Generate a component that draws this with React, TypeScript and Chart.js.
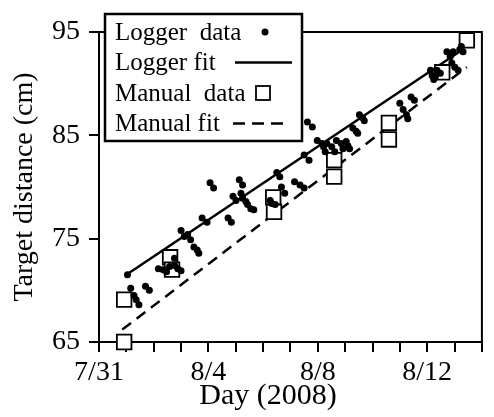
import { useEffect, useRef } from "react";
import { Chart, registerables } from "chart.js";

Chart.register(...registerables);

// ---- data ----
const dayLabels = ["7/31", "8/4", "8/8", "8/12"]; // every 4th day from 7/31
const yTickValues = [65, 75, 85, 95];

const loggerDays = [
  1.04, 1.16, 1.28, 1.36, 1.46, 1.7, 1.84,
  2.17, 2.35, 2.47, 2.58, 2.76, 2.76, 2.88, 3.0,
  3.0, 3.12, 3.24, 3.35, 3.47, 3.59, 3.65, 3.77, 3.95,
  4.06, 4.19, 4.72, 4.84, 4.9, 5.01, 5.13, 5.19, 5.25, 5.25, 5.37, 5.43, 5.55, 5.66,
  6.26, 6.32, 6.44, 6.5, 6.61, 6.67, 6.79,
  7.15, 7.35, 7.5, 7.5, 7.68, 7.62, 7.8,
  7.98, 8.15, 8.21, 8.27, 8.33, 8.51, 8.62, 8.68, 8.86, 8.92, 9.04, 9.1, 9.16,
  9.28, 9.4, 9.46, 9.52, 9.64, 9.7,
  11.0, 11.12, 11.24, 11.29, 11.41, 11.53,
  12.12, 12.18, 12.24, 12.3, 12.36, 12.48,
  12.72, 12.84, 12.9, 12.95, 13.01, 13.13, 13.19, 13.25, 13.31,
];
const loggerValues = [
  71.5, 70.2, 69.5, 69.1, 68.6, 70.4, 70.0,
  72.1, 72.0, 71.8, 72.3, 72.4, 73.1, 72.1, 71.9,
  75.8, 75.2, 75.4, 74.9, 74.2, 73.9, 73.6, 77.0, 76.6,
  80.4, 79.9, 77.0, 76.6, 79.1, 78.7, 80.7, 79.4, 80.2, 78.9, 78.6, 78.3, 77.9, 77.8,
  78.7, 78.4, 78.3, 81.4, 81.0, 80.0, 79.4,
  80.5, 80.2, 79.9, 83.1, 82.6, 86.3, 85.8,
  84.5, 84.2, 83.9, 83.4, 84.2, 83.9, 83.4, 84.5, 84.2, 83.7, 84.4, 84.0, 83.7,
  85.7, 85.4, 85.2, 87.0, 86.7, 86.4,
  88.1, 87.5, 87.0, 86.6, 88.7, 88.4,
  91.3, 90.8, 90.4, 90.7, 91.3, 91.0,
  93.1, 92.6, 92.0, 93.1, 91.6, 91.3, 93.3, 93.6, 93.1,
];

const manualDays = [0.92, 0.92, 2.6, 2.67, 6.37, 6.4, 8.6, 8.6, 10.6, 10.6, 12.55, 13.45];
const manualValues = [65.0, 69.1, 73.2, 72.0, 79.0, 77.6, 82.6, 81.0, 86.2, 84.6, 91.1, 94.2];

const loggerFitDays = [1.0, 13.3];
const loggerFitValues = [71.5, 93.3];
const manualFitDays = [0.85, 13.45];
const manualFitValues = [66.2, 91.6];

const legendLabels = ["Logger  data", "Logger fit", "Manual  data", "Manual fit"];
const xTitle = "Day (2008)";
const yTitle = "Target distance (cm)";

const FONT = "'Liberation Serif', 'Times New Roman', serif";

const toPoints = (xs: number[], ys: number[]) => xs.map((x, i) => ({ x, y: ys[i] }));

const framePlugin = {
  id: "frame",
  beforeDatasetsDraw(chart: any) {
    const { ctx, chartArea: a } = chart;
    ctx.save();
    ctx.strokeStyle = "#000";
    ctx.lineWidth = 2;
    ctx.strokeRect(a.left, a.top, a.right - a.left, a.bottom - a.top);
    ctx.restore();
  },
};

const legendPlugin = {
  id: "customLegend",
  afterDraw(chart: any) {
    const { ctx, chartArea: a } = chart;
    const x0 = a.left + 6;
    const y0 = a.top - 18;
    const w = 197;
    const h = 127;
    ctx.save();
    ctx.fillStyle = "#fff";
    ctx.fillRect(x0, y0, w, h);
    ctx.strokeStyle = "#000";
    ctx.lineWidth = 2.5;
    ctx.strokeRect(x0, y0, w, h);

    ctx.fillStyle = "#000";
    ctx.font = `25px ${FONT}`;
    ctx.textBaseline = "middle";
    ctx.textAlign = "left";
    const rowY = (i: number) => y0 + 18 + i * 30.5;
    legendLabels.forEach((t, i) => ctx.fillText(t, x0 + 10, rowY(i) + 1));

    // symbols
    ctx.beginPath();
    ctx.arc(x0 + 160, rowY(0), 3.5, 0, Math.PI * 2);
    ctx.fill();

    ctx.lineWidth = 2.5;
    ctx.beginPath();
    ctx.moveTo(x0 + 130, rowY(1));
    ctx.lineTo(x0 + 187, rowY(1));
    ctx.stroke();

    ctx.lineWidth = 1.8;
    ctx.strokeRect(x0 + 151, rowY(2) - 7, 14, 14);

    ctx.lineWidth = 2.5;
    ctx.setLineDash([12, 7]);
    ctx.beginPath();
    ctx.moveTo(x0 + 128, rowY(3));
    ctx.lineTo(x0 + 185, rowY(3));
    ctx.stroke();
    ctx.setLineDash([]);

    // x-axis title
    ctx.font = `30px ${FONT}`;
    ctx.textAlign = "center";
    ctx.textBaseline = "alphabetic";
    ctx.fillText(xTitle, a.left + 169, a.bottom + 62);
    ctx.restore();
  },
};

export default function App() {
  const ref = useRef<HTMLCanvasElement | null>(null);

  useEffect(() => {
    if (!ref.current) return;
    const chart = new Chart(ref.current, {
      type: "scatter",
      data: {
        datasets: [
          {
            label: "Logger data",
            data: toPoints(loggerDays, loggerValues),
            pointRadius: 3.5,
            pointBackgroundColor: "#000",
            pointBorderWidth: 0,
            order: 0,
            clip: false,
          } as any,
          {
            label: "Manual data",
            data: toPoints(manualDays, manualValues),
            pointStyle: "rect",
            pointRadius: 10.3,
            pointBackgroundColor: "#fff",
            pointBorderColor: "#000",
            pointBorderWidth: 1.8,
            order: 1,
            clip: false,
          } as any,
          {
            label: "Logger fit",
            data: toPoints(loggerFitDays, loggerFitValues),
            showLine: true,
            borderColor: "#000",
            borderWidth: 2.5,
            pointRadius: 0,
            order: 2,
          } as any,
          {
            label: "Manual fit",
            data: toPoints(manualFitDays, manualFitValues),
            showLine: true,
            borderColor: "#000",
            borderWidth: 2.5,
            borderDash: [11, 7],
            pointRadius: 0,
            order: 3,
          } as any,
        ],
      },
      options: {
        responsive: true,
        maintainAspectRatio: false,
        animation: false,
        layout: { padding: { top: 32, right: 2, left: 0, bottom: 0 } },
        plugins: {
          legend: { display: false },
          tooltip: { enabled: false },
        },
        scales: {
          x: {
            type: "linear",
            min: 0,
            max: 14,
            afterFit: (s: any) => {
              s.height = 75;
              s.paddingLeft = 0;
              s.paddingRight = 0;
            },
            ticks: {
              stepSize: 1,
              autoSkip: false,
              maxRotation: 0,
              color: "#000",
              padding: 4,
              font: { family: FONT, size: 28 },
              callback: (v: any) => (Number(v) % 4 === 0 ? dayLabels[Number(v) / 4] : ""),
            },
            grid: {
              drawOnChartArea: false,
              drawTicks: true,
              tickLength: 10,
              color: "#000",
              lineWidth: 2,
            },
            border: { color: "#000", width: 2 },
          },
          y: {
            type: "linear",
            min: 65,
            max: 95,
            afterFit: (s: any) => {
              s.width = 99;
              s.paddingTop = 0;
              s.paddingBottom = 0;
            },
            afterBuildTicks: (s: any) => {
              s.ticks = yTickValues.map((value) => ({ value }));
            },
            ticks: {
              color: "#000",
              padding: 9,
              font: { family: FONT, size: 28 },
            },
            grid: {
              drawOnChartArea: false,
              drawTicks: true,
              tickLength: 10,
              color: "#000",
              lineWidth: 2,
            },
            border: { color: "#000", width: 2 },
            title: {
              display: true,
              text: yTitle,
              color: "#000",
              font: { family: FONT, size: 28 },
              padding: { top: 8, bottom: 0 },
            },
          },
        },
      } as any,
      plugins: [framePlugin, legendPlugin],
    });
    return () => chart.destroy();
  }, []);

  return (
    <div style={{ position: "fixed", left: 0, top: 0, width: 494, height: 417, background: "#fff" }}>
      <canvas ref={ref} />
    </div>
  );
}
